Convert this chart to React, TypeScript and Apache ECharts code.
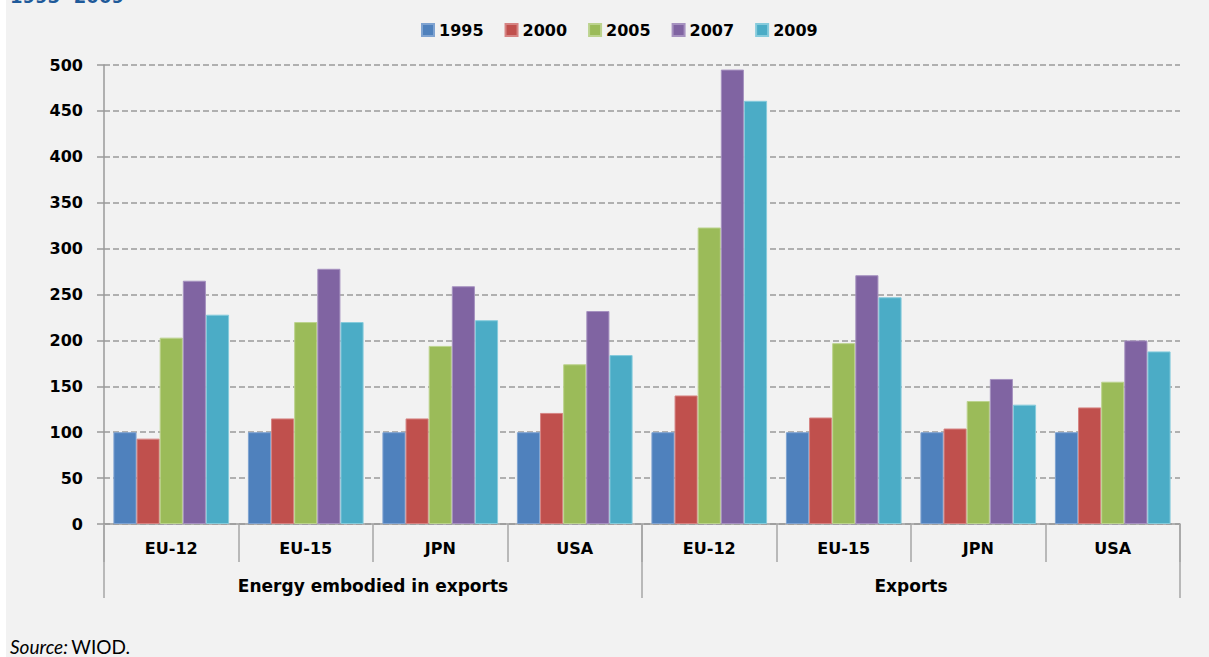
import React, { useEffect, useRef } from "react";
import * as echarts from "echarts";

const categories = ["EU-12", "EU-15", "JPN", "USA", "EU-12", "EU-15", "JPN", "USA"];
const groups = ["Energy embodied in exports", "Exports"];
const seriesNames = ["1995", "2000", "2005", "2007", "2009"];
const v1995 = [100, 100, 100, 100, 100, 100, 100, 100];
const v2000 = [93, 115, 115, 121, 140, 116, 104, 127];
const v2005 = [203, 220, 194, 174, 323, 197, 134, 155];
const v2007 = [265, 278, 259, 232, 495, 271, 158, 200];
const v2009 = [228, 220, 222, 184, 461, 247, 130, 188];
const seriesValues = [v1995, v2000, v2005, v2007, v2009];
const colors = ["#4f81bd", "#c0504d", "#9bbb59", "#8064a2", "#4bacc6"];
const borderColors = ["#7fa3d1", "#d68483", "#bcd38e", "#a692c0", "#86cbdc"];

const FONT = "'DejaVu Sans', Verdana, sans-serif";

export default function App() {
  const ref = useRef<HTMLDivElement>(null);
  useEffect(() => {
    document.body.style.margin = "0";
    const chart = echarts.init(ref.current!, null, { renderer: "svg" });
    chart.setOption({
      animation: false,
      backgroundColor: "transparent",
      color: colors,
      legend: {
        left: 421,
        top: 22,
        padding: 0,
        icon: "rect",
        itemWidth: 12,
        itemHeight: 12,
        itemGap: 21,
        textStyle: { fontFamily: FONT, fontWeight: "bold", fontSize: 16, color: "#000" },
        data: seriesNames,
      },
      grid: { left: 104, right: 29, top: 65, bottom: 133 },
      xAxis: [
        {
          type: "category",
          data: categories,
          position: "bottom",
          axisLine: { show: true, lineStyle: { color: "#9a9a9a", width: 1.5 } },
          axisTick: { show: true, interval: 0, length: 38, lineStyle: { color: "#a6a6a6", width: 1.5 } },
          axisLabel: {
            interval: 0,
            margin: 15,
            fontFamily: FONT,
            fontWeight: "bold",
            fontSize: 16,
            lineHeight: 18,
            color: "#000",
          },
        },
        {
          type: "category",
          data: groups,
          position: "bottom",
          axisLine: { show: false },
          axisTick: { show: true, interval: 0, length: 74, lineStyle: { color: "#a6a6a6", width: 1.5 } },
          axisLabel: {
            interval: 0,
            margin: 52,
            fontFamily: FONT,
            fontWeight: "bold",
            fontSize: 17,
            lineHeight: 19,
            color: "#000",
          },
          splitLine: { show: false },
        },
      ],
      yAxis: {
        type: "value",
        min: 0,
        max: 500,
        interval: 50,
        axisLine: { show: true, lineStyle: { color: "#9a9a9a", width: 1.5 } },
        axisTick: { show: true, length: 7, lineStyle: { color: "#9a9a9a", width: 1.5 } },
        axisLabel: {
          margin: 21,
          fontFamily: FONT,
          fontWeight: "bold",
          fontSize: 16,
          color: "#000",
        },
        splitLine: { show: true, lineStyle: { color: "#9a9a9a", type: [6, 3], width: 1.5 } },
      },
      series: seriesNames.map((name, i) => ({
        name,
        type: "bar",
        xAxisIndex: 0,
        data: seriesValues[i],
        barGap: "0%",
        barCategoryGap: "14%",
        itemStyle: { color: colors[i], borderColor: borderColors[i], borderWidth: 1 },
      })),
      graphic: [
        {
          type: "text",
          left: 10,
          top: -13,
          style: {
            text: "1995 -2009",
            fontFamily: FONT,
            fontWeight: "bold",
            fontSize: 18,
            fill: "#1f5a9a",
          },
        },
        {
          type: "text",
          left: 10,
          top: 637,
          style: {
            text: "{i|Source:} {r|WIOD.}",
            rich: {
              i: { fontFamily: "Lato, 'Open Sans', sans-serif", fontStyle: "italic", fontSize: 19, fill: "#000" },
              r: { fontFamily: "Lato, 'Open Sans', sans-serif", fontSize: 19, fill: "#000" },
            },
          },
        },
      ],
    });
    return () => chart.dispose();
  }, []);
  return (
    <div
      ref={ref}
      style={{
        width: 1209,
        height: 657,
        background: "linear-gradient(to right, #ffffff 6px, #f2f2f2 6px)",
      }}
    />
  );
}
